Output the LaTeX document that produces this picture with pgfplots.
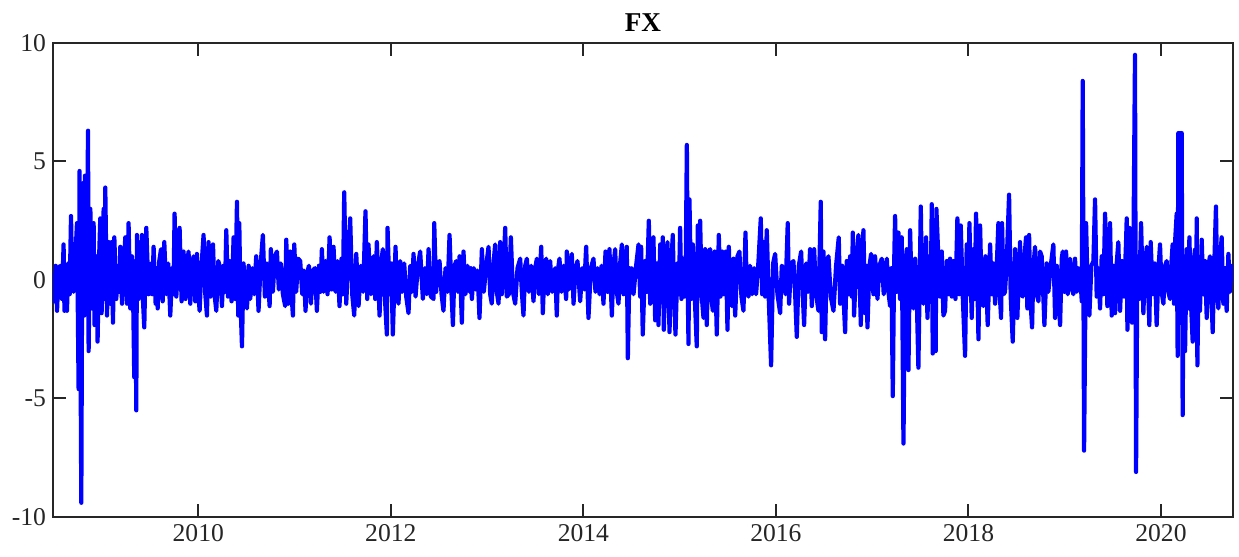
\documentclass[border=0pt]{standalone}
\usepackage{pgfplots}
\pgfplotsset{compat=1.18}
\usepackage{fontspec}
\setmainfont{Liberation Serif}
\definecolor{axgray}{RGB}{38,38,38}
\begin{document}
\begin{tikzpicture}
\begin{axis}[
  name=ax,
  scale only axis,
  width=590pt, height=237pt,
  xmin=2008.491, xmax=2020.748,
  ymin=-10, ymax=10,
  xtick={2010,2012,2014,2016,2018,2020},
  xticklabels={2010,2012,2014,2016,2018,2020},
  ytick={-10,-5,0,5,10},
  yticklabels={-10,-5,0,5,10},
  tick align=inside,
  major tick length=6.3pt,
  axis line style={axgray, line width=1.1pt},
  every tick/.style={axgray, line width=1pt},
  tick label style={font=\fontsize{12.8}{15}\selectfont, text=axgray},
  title={\textbf{FX}},
  title style={font=\fontsize{13.6}{16}\selectfont, yshift=-4pt},
]
\addplot[blue, line width=2.1pt, line join=round] coordinates {
(2008.491,0.3) (2008.505,-0.9) (2008.519,0.6) (2008.533,-1.3) (2008.550,0.5) (2008.567,0.6) (2008.584,-0.8) (2008.601,1.5)
(2008.610,-1.3) (2008.622,0.4) (2008.636,-1.3) (2008.650,0.7) (2008.664,-0.6) (2008.678,2.7) (2008.692,-0.3) (2008.705,-0.5)
(2008.722,0.8) (2008.740,2.4) (2008.757,-4.6) (2008.767,4.6) (2008.785,-9.4) (2008.795,2.0) (2008.809,4.1) (2008.816,-1.5)
(2008.823,4.4) (2008.837,-1.0) (2008.855,6.3) (2008.861,-3.0) (2008.879,3.0) (2008.896,-1.2) (2008.913,2.4) (2008.923,-1.9)
(2008.941,1.0) (2008.954,-2.6) (2008.969,0.8) (2008.982,2.6) (2008.996,-1.4) (2009.017,3.0) (2009.025,-0.8) (2009.034,3.9)
(2009.052,-1.5) (2009.069,1.6) (2009.086,-1.0) (2009.100,1.6) (2009.114,-1.8) (2009.128,1.8) (2009.148,-0.8) (2009.169,0.6)
(2009.180,-0.5) (2009.190,1.4) (2009.208,-1.0) (2009.224,0.5) (2009.242,1.8) (2009.260,-1.0) (2009.276,2.4) (2009.294,-1.2)
(2009.311,1.0) (2009.323,-0.6) (2009.335,-4.1) (2009.346,0.8) (2009.356,-5.5) (2009.363,1.9) (2009.380,-0.8) (2009.398,1.6)
(2009.406,-0.5) (2009.415,1.9) (2009.426,-0.9) (2009.439,-2.0) (2009.460,2.2) (2009.484,-0.6) (2009.496,0.5) (2009.509,0.7)
(2009.522,-0.6) (2009.536,1.4) (2009.557,-1.0) (2009.567,0.5) (2009.578,-1.2) (2009.595,0.8) (2009.613,1.3) (2009.630,-0.9)
(2009.647,1.6) (2009.668,-0.6) (2009.688,0.7) (2009.709,-1.5) (2009.730,0.5) (2009.742,-0.6) (2009.754,2.8) (2009.772,-0.7)
(2009.789,0.6) (2009.806,2.2) (2009.827,-0.9) (2009.847,1.2) (2009.868,-0.8) (2009.884,0.6) (2009.899,1.2) (2009.917,-1.0)
(2009.934,0.6) (2009.951,1.0) (2009.969,-0.9) (2009.986,1.1) (2010.000,-0.5) (2010.014,-1.3) (2010.034,0.6) (2010.055,1.9)
(2010.073,-0.6) (2010.090,-1.5) (2010.107,1.6) (2010.128,-0.7) (2010.153,1.5) (2010.169,-0.6) (2010.187,-1.3) (2010.208,0.8)
(2010.228,0.5) (2010.246,-1.1) (2010.263,0.6) (2010.277,-0.5) (2010.291,2.1) (2010.308,-0.7) (2010.325,0.8) (2010.346,-0.9)
(2010.367,1.8) (2010.384,-0.8) (2010.402,3.3) (2010.415,-1.5) (2010.426,2.4) (2010.439,-1.0) (2010.454,-2.8) (2010.470,0.7)
(2010.488,-0.5) (2010.506,-1.2) (2010.523,0.6) (2010.540,-0.8) (2010.561,0.5) (2010.581,-0.6) (2010.602,1.0) (2010.626,-1.3)
(2010.647,0.6) (2010.671,1.9) (2010.692,-0.7) (2010.713,0.7) (2010.741,-1.1) (2010.754,1.3) (2010.775,-0.5) (2010.796,1.0)
(2010.817,1.2) (2010.837,-0.4) (2010.858,0.7) (2010.879,-0.6) (2010.903,-1.1) (2010.914,1.7) (2010.934,-1.0) (2010.955,1.2)
(2010.972,-0.8) (2010.983,-1.5) (2010.997,1.5) (2011.017,-0.5) (2011.038,0.9) (2011.059,0.8) (2011.080,-0.6) (2011.097,0.4)
(2011.114,-1.3) (2011.132,0.3) (2011.149,0.6) (2011.170,-1.0) (2011.191,0.4) (2011.211,0.5) (2011.232,-1.3) (2011.253,0.6)
(2011.268,-0.5) (2011.284,1.3) (2011.301,-0.5) (2011.322,0.8) (2011.343,-0.6) (2011.364,1.8) (2011.384,-0.4) (2011.405,1.4)
(2011.426,-0.5) (2011.447,0.8) (2011.467,-1.1) (2011.488,0.9) (2011.502,-0.6) (2011.516,3.7) (2011.537,-1.0) (2011.557,0.9)
(2011.578,2.6) (2011.599,-0.6) (2011.620,-1.5) (2011.641,1.1) (2011.665,-1.1) (2011.689,0.6) (2011.713,-0.5) (2011.737,2.9)
(2011.755,-0.8) (2011.768,1.5) (2011.793,-0.6) (2011.820,1.0) (2011.838,-0.8) (2011.855,1.6) (2011.883,-1.5) (2011.900,0.7)
(2011.917,1.3) (2011.938,-0.7) (2011.959,-2.3) (2011.966,2.2) (2011.987,-0.6) (2012.004,0.7) (2012.021,-2.3) (2012.049,1.4)
(2012.063,-0.6) (2012.080,-1.0) (2012.097,0.8) (2012.118,-0.5) (2012.139,0.7) (2012.160,-0.7) (2012.184,-1.4) (2012.201,0.6)
(2012.219,-0.5) (2012.236,1.1) (2012.257,-0.7) (2012.281,0.6) (2012.305,1.2) (2012.333,-0.8) (2012.354,0.5) (2012.374,-0.6)
(2012.392,1.3) (2012.416,-0.7) (2012.444,-0.8) (2012.451,2.4) (2012.471,-0.5) (2012.489,0.7) (2012.506,0.8) (2012.527,-0.6)
(2012.547,-1.3) (2012.568,0.5) (2012.589,-0.5) (2012.610,1.9) (2012.631,-0.6) (2012.645,-1.9) (2012.662,0.6) (2012.679,0.8)
(2012.696,-0.5) (2012.714,1.0) (2012.738,-1.8) (2012.755,1.2) (2012.776,-0.6) (2012.797,0.6) (2012.818,-0.5) (2012.831,0.5)
(2012.842,-0.8) (2012.863,0.5) (2012.883,-0.4) (2012.901,0.4) (2012.921,-1.6) (2012.946,1.3) (2012.966,-0.5) (2012.991,0.6)
(2013.015,1.4) (2013.032,-0.6) (2013.049,-1.0) (2013.067,0.7) (2013.084,1.5) (2013.101,-0.5) (2013.119,-1.0) (2013.136,1.6)
(2013.153,-0.6) (2013.171,0.5) (2013.188,2.2) (2013.205,-0.7) (2013.226,-0.6) (2013.247,1.8) (2013.268,-0.5) (2013.292,-1.0)
(2013.316,0.5) (2013.344,0.9) (2013.361,-0.5) (2013.378,-1.5) (2013.396,0.6) (2013.413,0.9) (2013.434,-0.5) (2013.458,0.6)
(2013.482,-0.9) (2013.500,0.5) (2013.517,0.9) (2013.538,-0.6) (2013.562,1.4) (2013.579,-1.4) (2013.596,0.5) (2013.614,0.9)
(2013.631,-0.6) (2013.655,0.8) (2013.676,-0.5) (2013.707,0.5) (2013.724,-1.5) (2013.738,0.5) (2013.752,0.9) (2013.773,-0.5)
(2013.794,0.6) (2013.821,-0.8) (2013.828,1.2) (2013.849,-0.4) (2013.865,0.5) (2013.880,1.1) (2013.898,-1.0) (2013.918,0.4)
(2013.939,0.8) (2013.967,-0.9) (2013.988,0.5) (2014.008,-0.4) (2014.029,1.4) (2014.053,-1.6) (2014.078,0.5) (2014.105,0.9)
(2014.126,-0.5) (2014.147,0.5) (2014.168,-0.6) (2014.188,0.6) (2014.209,-1.0) (2014.230,1.2) (2014.251,-0.5) (2014.271,1.3)
(2014.296,-1.5) (2014.313,0.6) (2014.330,1.3) (2014.347,-0.5) (2014.365,-1.0) (2014.382,0.7) (2014.400,1.5) (2014.417,-0.6)
(2014.437,0.6) (2014.451,1.4) (2014.462,-3.3) (2014.479,0.5) (2014.491,-0.4) (2014.503,0.5) (2014.521,-0.6) (2014.548,0.6)
(2014.573,1.5) (2014.590,-0.7) (2014.600,1.4) (2014.617,-2.3) (2014.642,0.8) (2014.659,-0.5) (2014.680,2.5) (2014.694,-1.0)
(2014.711,0.6) (2014.728,1.8) (2014.746,-1.7) (2014.763,0.7) (2014.780,-1.9) (2014.798,1.5) (2014.812,-0.6) (2014.825,1.8)
(2014.836,-2.1) (2014.853,0.6) (2014.874,1.6) (2014.895,-2.2) (2014.912,0.6) (2014.929,1.9) (2014.943,-0.7) (2014.957,-2.3)
(2014.978,0.7) (2014.992,-0.6) (2015.005,2.2) (2015.019,-0.8) (2015.033,0.9) (2015.050,-0.7) (2015.064,0.8) (2015.075,5.7)
(2015.085,-0.6) (2015.092,-2.7) (2015.102,3.4) (2015.120,-0.8) (2015.137,1.5) (2015.158,-0.8) (2015.178,-2.8) (2015.189,2.3)
(2015.203,-0.5) (2015.213,2.5) (2015.230,-0.7) (2015.248,-1.6) (2015.265,1.3) (2015.282,-1.9) (2015.300,1.2) (2015.317,1.3)
(2015.331,-0.8) (2015.345,-1.3) (2015.365,1.2) (2015.386,-2.3) (2015.407,1.9) (2015.424,-0.7) (2015.442,1.2) (2015.459,-0.6)
(2015.480,1.2) (2015.497,-2.1) (2015.511,1.4) (2015.525,-0.6) (2015.542,-1.1) (2015.559,0.9) (2015.577,-1.5) (2015.601,1.0)
(2015.621,1.2) (2015.642,-0.7) (2015.663,-1.3) (2015.684,2.0) (2015.698,-0.5) (2015.715,-0.7) (2015.732,0.6) (2015.753,-0.6)
(2015.774,0.5) (2015.794,-0.6) (2015.819,0.8) (2015.843,2.6) (2015.857,-0.6) (2015.871,1.6) (2015.888,-0.7) (2015.905,2.1)
(2015.926,-0.8) (2015.950,-3.6) (2015.971,0.7) (2015.992,1.1) (2016.016,-0.6) (2016.044,-1.4) (2016.061,0.6) (2016.078,0.5)
(2016.099,-0.6) (2016.123,2.4) (2016.137,-1.0) (2016.158,0.7) (2016.182,0.8) (2016.200,-0.6) (2016.217,-2.4) (2016.238,0.6)
(2016.262,1.2) (2016.279,-0.6) (2016.293,-1.9) (2016.314,0.7) (2016.335,-0.5) (2016.355,1.3) (2016.373,-1.1) (2016.397,1.3)
(2016.418,-0.6) (2016.442,-1.3) (2016.466,3.3) (2016.476,-2.2) (2016.494,1.2) (2016.511,-2.5) (2016.528,0.8) (2016.546,1.0)
(2016.570,-0.7) (2016.598,-1.3) (2016.625,0.6) (2016.653,1.8) (2016.667,-1.0) (2016.688,0.6) (2016.719,-2.2) (2016.736,0.8)
(2016.754,-0.6) (2016.771,1.0) (2016.788,-0.7) (2016.799,2.0) (2016.812,-1.5) (2016.833,0.6) (2016.857,1.9) (2016.882,-1.9)
(2016.895,0.7) (2016.909,2.1) (2016.927,-1.4) (2016.937,0.6) (2016.951,-2.0) (2016.972,0.6) (2016.989,1.1) (2017.013,-0.6)
(2017.030,1.0) (2017.055,-0.8) (2017.075,0.6) (2017.100,0.9) (2017.120,-0.6) (2017.152,0.9) (2017.169,-0.5) (2017.186,-1.1)
(2017.200,0.5) (2017.214,-4.9) (2017.228,0.6) (2017.238,2.7) (2017.255,-0.5) (2017.273,2.0) (2017.290,-0.8) (2017.307,1.8)
(2017.325,-6.9) (2017.342,0.5) (2017.359,1.3) (2017.377,-3.8) (2017.394,2.1) (2017.411,-0.6) (2017.428,-1.2) (2017.446,0.9)
(2017.463,-0.7) (2017.480,-3.7) (2017.505,3.1) (2017.518,-0.6) (2017.532,-1.0) (2017.560,1.8) (2017.574,-1.6) (2017.595,1.0)
(2017.608,-0.7) (2017.619,3.2) (2017.629,-3.1) (2017.647,1.0) (2017.660,-3.0) (2017.667,3.0) (2017.688,0.9) (2017.705,-0.7)
(2017.723,1.2) (2017.740,-1.5) (2017.757,-1.3) (2017.775,0.8) (2017.792,-0.6) (2017.809,0.9) (2017.827,-0.7) (2017.844,0.8)
(2017.865,-0.8) (2017.885,2.6) (2017.903,-0.6) (2017.920,2.3) (2017.941,-0.7) (2017.965,-3.2) (2017.982,1.5) (2017.999,-0.6)
(2018.010,2.4) (2018.034,-1.6) (2018.052,1.3) (2018.065,-0.8) (2018.079,2.8) (2018.104,-2.5) (2018.121,2.3) (2018.138,-0.7)
(2018.155,-1.1) (2018.176,1.0) (2018.200,-1.9) (2018.225,1.5) (2018.242,-0.6) (2018.259,0.7) (2018.277,-1.0) (2018.294,0.6)
(2018.311,2.4) (2018.328,-0.8) (2018.339,-1.6) (2018.349,2.4) (2018.366,-0.6) (2018.380,-0.5) (2018.398,0.8) (2018.422,3.6)
(2018.439,-0.7) (2018.460,-2.6) (2018.484,1.3) (2018.508,-1.6) (2018.536,1.6) (2018.550,-0.6) (2018.564,-0.7) (2018.581,0.9)
(2018.598,1.8) (2018.612,-1.2) (2018.630,1.9) (2018.643,-0.8) (2018.661,-2.0) (2018.675,0.6) (2018.692,1.4) (2018.709,-0.6)
(2018.727,-0.9) (2018.744,1.2) (2018.761,1.0) (2018.778,-0.7) (2018.789,-1.9) (2018.813,0.7) (2018.830,-0.5) (2018.855,0.6)
(2018.882,1.5) (2018.900,-1.6) (2018.917,0.6) (2018.934,-0.6) (2018.952,-1.9) (2018.969,0.9) (2018.979,1.2) (2018.997,-0.5)
(2019.014,1.2) (2019.031,-0.6) (2019.055,0.9) (2019.076,-0.4) (2019.090,-0.6) (2019.107,0.9) (2019.125,-0.5) (2019.142,0.5)
(2019.159,0.4) (2019.177,-0.9) (2019.187,8.4) (2019.201,-7.2) (2019.222,2.4) (2019.239,-0.6) (2019.256,-1.5) (2019.277,0.6)
(2019.298,0.8) (2019.315,3.4) (2019.332,-0.7) (2019.350,0.5) (2019.367,-1.2) (2019.384,1.0) (2019.402,-0.6) (2019.419,2.8)
(2019.443,-1.1) (2019.457,0.6) (2019.471,2.4) (2019.488,-1.5) (2019.505,0.6) (2019.523,-1.4) (2019.540,0.7) (2019.557,1.6)
(2019.575,-1.3) (2019.595,0.8) (2019.616,-0.7) (2019.637,1.6) (2019.644,2.6) (2019.651,-2.1) (2019.672,2.2) (2019.685,-0.6)
(2019.699,-1.8) (2019.713,1.0) (2019.730,9.5) (2019.741,-8.1) (2019.755,1.0) (2019.772,-0.8) (2019.793,2.4) (2019.817,-1.4)
(2019.834,0.6) (2019.852,1.4) (2019.869,-0.7) (2019.879,-1.9) (2019.893,1.6) (2019.914,-0.6) (2019.935,0.7) (2019.955,-1.9)
(2019.976,0.6) (2019.990,1.5) (2020.007,-0.5) (2020.025,-1.0) (2020.042,0.6) (2020.059,0.8) (2020.076,-0.5) (2020.094,-0.8)
(2020.108,0.7) (2020.121,1.5) (2020.135,-1.0) (2020.149,1.8) (2020.163,2.8) (2020.173,-3.2) (2020.180,6.2) (2020.191,3.0)
(2020.198,6.2) (2020.205,-1.0) (2020.215,6.2) (2020.225,-5.7) (2020.236,1.0) (2020.250,-3.0) (2020.267,1.3) (2020.281,-1.2)
(2020.295,1.8) (2020.312,-1.0) (2020.329,-2.6) (2020.343,0.9) (2020.353,1.3) (2020.364,-1.5) (2020.371,2.6) (2020.378,-3.6)
(2020.392,0.7) (2020.405,-1.3) (2020.423,1.7) (2020.440,-0.6) (2020.457,0.8) (2020.475,-1.6) (2020.492,0.6) (2020.509,1.0)
(2020.523,-0.6) (2020.537,-2.2) (2020.554,0.7) (2020.571,3.1) (2020.585,-0.6) (2020.596,-1.2) (2020.613,0.8) (2020.630,1.8)
(2020.648,-1.0) (2020.665,0.5) (2020.682,-1.3) (2020.700,1.1) (2020.717,-0.5) (2020.734,0.6) (2020.745,0.0)
};
\end{axis}
\path (ax.south west) +(-26.5pt,-20pt) (ax.north east) +(3pt,21.5pt);
\end{tikzpicture}
\end{document}
